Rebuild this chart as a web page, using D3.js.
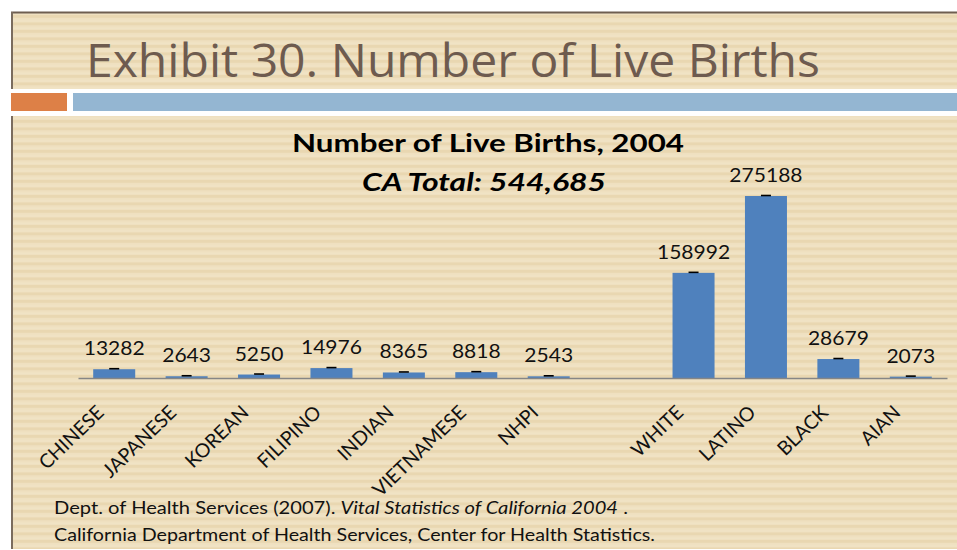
<!DOCTYPE html>
<html>
<head>
<meta charset="utf-8">
<script src="https://cdn.jsdelivr.net/npm/d3@7"></script>
<style>
  html, body { margin: 0; padding: 0; background: #ffffff; }
  svg { display: block; }
</style>
</head>
<body>
<svg id="slide" width="957" height="550"></svg>
<script>
// Live births by race/ethnicity, California 2004 (blank slot separates the groups)
const categories = ["CHINESE", "JAPANESE", "KOREAN", "FILIPINO", "INDIAN", "VIETNAMESE", "NHPI", "", "WHITE", "LATINO", "BLACK", "AIAN"];
const births = [13282, 2643, 5250, 14976, 8365, 8818, 2543, null, 158992, 275188, 28679, 2073];

const slideTitle = "Exhibit 30. Number of Live Births";
const chartTitle = "Number of Live Births, 2004";
const chartSubtitle = "CA Total: 544,685";
const sourceLine1 = ["Dept. of Health Services (2007). ", "Vital Statistics of California 2004", " ."];
const sourceLine2 = "California Department of Health Services, Center for Health Statistics.";

const W = 957, H = 550;
const svg = d3.select("#slide");

// striped paper texture
const defs = svg.append("defs");
const pat = defs.append("pattern")
  .attr("id", "paper").attr("patternUnits", "userSpaceOnUse")
  .attr("width", 20).attr("height", 7.5);
pat.append("rect").attr("width", 20).attr("height", 7.5).attr("fill", "#EFE0C0");
pat.append("rect").attr("y", 0).attr("width", 20).attr("height", 2.8).attr("fill", "#E9D7B1");
pat.append("rect").attr("y", 5.2).attr("width", 20).attr("height", 1).attr("fill", "#F2E5C9");

// title panel
svg.append("rect").attr("x", 11).attr("y", 12).attr("width", W - 11).attr("height", 77).attr("fill", "url(#paper)");
svg.append("line").attr("x1", 11).attr("x2", W).attr("y1", 12.5).attr("y2", 12.5).attr("stroke", "#6E5E50").attr("stroke-width", 2);
svg.append("line").attr("x1", 12).attr("x2", 12).attr("y1", 12).attr("y2", 89).attr("stroke", "#7A6C5E").attr("stroke-width", 2);

// accent bars
svg.append("rect").attr("x", 11).attr("y", 93).attr("width", 56).attr("height", 18).attr("fill", "#DD8047");
svg.append("rect").attr("x", 73).attr("y", 93).attr("width", W - 73).attr("height", 18).attr("fill", "#94B6D2");

// content panel
svg.append("rect").attr("x", 11).attr("y", 116).attr("width", W - 11).attr("height", 433).attr("fill", "url(#paper)");
svg.append("line").attr("x1", 12).attr("x2", 12).attr("y1", 116).attr("y2", 549).attr("stroke", "#7A6C5E").attr("stroke-width", 2);

svg.append("text")
  .attr("x", 86).attr("y", 77)
  .attr("font-family", "'Open Sans', sans-serif").attr("font-size", 45)
  .attr("fill", "#6E5B4F")
  .attr("textLength", 734).attr("lengthAdjust", "spacingAndGlyphs")
  .text(slideTitle);

// chart headings
svg.append("text")
  .attr("x", 488).attr("y", 152).attr("text-anchor", "middle")
  .attr("font-family", "Lato, sans-serif").attr("font-weight", "bold").attr("font-size", 24)
  .attr("fill", "#000")
  .attr("textLength", 392).attr("lengthAdjust", "spacingAndGlyphs")
  .text(chartTitle);
svg.append("text")
  .attr("x", 484).attr("y", 191).attr("text-anchor", "middle")
  .attr("font-family", "Lato, sans-serif").attr("font-weight", "bold").attr("font-style", "italic").attr("font-size", 24)
  .attr("fill", "#000")
  .attr("textLength", 244).attr("lengthAdjust", "spacingAndGlyphs")
  .text(chartSubtitle);

// scales
const x = d3.scaleBand().domain(categories.map((c, i) => i)).range([78, 947]).paddingInner(0.42).paddingOuter(0.21);
const y = d3.scaleLinear().domain([0, 300000]).range([378, 179.6]);

const data = categories.map((c, i) => ({ i, name: c, value: births[i] })).filter(d => d.value != null);

const g = svg.append("g");

g.selectAll("rect.bar").data(data).join("rect")
  .attr("class", "bar")
  .attr("x", d => x(d.i)).attr("width", x.bandwidth())
  .attr("y", d => y(d.value)).attr("height", d => y(0) - y(d.value))
  .attr("fill", "#4F81BD");

// small caps at bar tops
g.selectAll("line.cap").data(data).join("line")
  .attr("class", "cap")
  .attr("x1", d => x(d.i) + x.bandwidth() / 2 - 5).attr("x2", d => x(d.i) + x.bandwidth() / 2 + 5)
  .attr("y1", d => y(d.value) - 0.5).attr("y2", d => y(d.value) - 0.5)
  .attr("stroke", "#000").attr("stroke-width", 1.6);

// baseline axis
const axis = g.append("g").attr("transform", `translate(0,${y(0)})`)
  .call(d3.axisBottom(x).tickSize(0).tickFormat(""));
axis.select(".domain").attr("stroke", "#868686").attr("stroke-width", 1.5);

// value labels
g.selectAll("text.val").data(data).join("text")
  .attr("class", "val")
  .attr("x", d => x(d.i) + x.bandwidth() / 2).attr("y", d => y(d.value) - 14)
  .attr("text-anchor", "middle")
  .attr("font-family", "Lato, sans-serif").attr("font-size", 20)
  .attr("fill", "#111")
  .attr("textLength", d => String(d.value).length * 12.2).attr("lengthAdjust", "spacingAndGlyphs")
  .text(d => d.value);

// category labels, rotated
g.selectAll("text.cat").data(data).join("text")
  .attr("class", "cat")
  .attr("transform", d => `translate(${x(d.i) + x.bandwidth() / 2 - 9},414) rotate(-44)`)
  .attr("text-anchor", "end")
  .attr("font-family", "Lato, sans-serif").attr("font-size", 19.5)
  .attr("fill", "#111")
  .text(d => d.name);

// source note
const s1 = svg.append("text").attr("x", 54).attr("y", 514)
  .attr("font-family", "Lato, sans-serif").attr("font-size", 17).attr("fill", "#111")
  .attr("textLength", 574).attr("lengthAdjust", "spacingAndGlyphs");
s1.selectAll("tspan").data(sourceLine1).join("tspan")
  .attr("font-style", (d, i) => i === 1 ? "italic" : "normal")
  .text(d => d);
svg.append("text").attr("x", 54).attr("y", 541)
  .attr("font-family", "Lato, sans-serif").attr("font-size", 17).attr("fill", "#111")
  .attr("textLength", 601).attr("lengthAdjust", "spacingAndGlyphs")
  .text(sourceLine2);
</script>
</body>
</html>
